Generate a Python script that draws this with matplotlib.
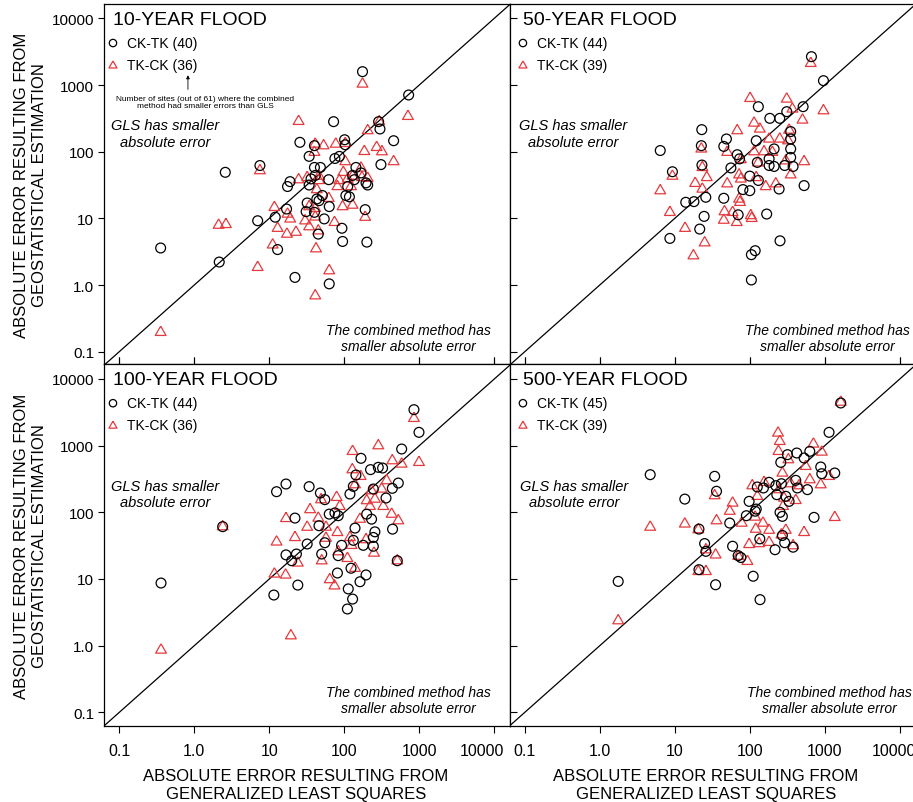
import matplotlib
matplotlib.use("Agg")
import matplotlib.pyplot as plt
import matplotlib.transforms as mtransforms
from matplotlib import font_manager

# narrow face for axis titles if present, else regular at a smaller size
names = {f.name for f in font_manager.fontManager.ttflist}
HAS_NARROW = "Liberation Sans Narrow" in names
NARROW = "Liberation Sans Narrow" if HAS_NARROW else "Liberation Sans"
plt.rcParams["font.family"] = ["Liberation Sans", "DejaVu Sans"]

# ---- data: (GLS error, geostatistical error) pairs ----
panels = ["10-YEAR FLOOD", "50-YEAR FLOOD", "100-YEAR FLOOD", "500-YEAR FLOOD"]
ck_tk_counts = [40, 44, 44, 45]
tk_ck_counts = [36, 39, 36, 39]

ck_tk_10 = [(175, 1585), (721, 708), (2.59, 49), (0.356, 3.59), (2.15, 2.21),
            (72, 282), (287, 282), (299, 219), (455, 146), (25.6, 138), (101, 151),
            (103, 127), (40, 123), (34, 85), (75, 79), (86, 85), (308, 64), (7.5, 62),
            (143, 58), (40, 58), (48, 58), (167, 48), (129, 44), (41, 44), (62, 38),
            (18.9, 35.5), (17.5, 30), (34, 31.6), (195, 34), (205, 31.6), (111, 30),
            (105, 22), (117, 21), (43, 19.5), (46, 18.4), (32, 17), (63, 15), (17, 13.8),
            (31, 12.6), (40, 12.3), (190, 13.5), (12, 10.4), (7, 9.2), (54, 9.8),
            (93, 7.1), (45, 5.8), (95, 4.5), (200, 4.4), (12.9, 3.4), (22, 1.3),
            (63, 1.04), (136, 38), (36, 39), (51, 22)]
tk_ck_10 = [(175, 1035), (706, 339), (2.11, 7.9), (2.64, 8.1), (0.356, 0.195),
            (24.6, 285), (293, 282), (205, 207), (41, 130), (53, 123), (77, 130),
            (103, 133), (270, 116), (318, 100), (185, 101), (40, 98), (455, 71),
            (103, 71), (167, 57), (7.5, 52), (97, 49), (46, 43), (32, 41), (24.6, 38),
            (86, 37), (111, 39), (129, 43), (172, 41), (205, 40), (81, 30), (123, 30),
            (43, 27), (62, 20), (95, 15), (129, 15.8), (11.7, 14.6), (34, 15), (41, 14.1),
            (17.5, 11.6), (19, 9.8), (41, 10.5), (30, 9.2), (190, 10.4), (12.9, 7.1),
            (22.7, 6.2), (17.2, 5.8), (34, 7.5), (74, 8.7), (45, 6.5), (11.1, 4.0),
            (42, 3.5), (7.0, 1.84), (63, 1.64), (41, 0.69), (46, 37)]

ck_tk_50 = [(664, 2660), (960, 1161), (130, 473), (514, 473), (311, 398), (185, 316),
            (251, 316), (22.9, 214), (48.8, 155), (122, 146), (351, 200), (351, 155),
            (45, 120), (22.6, 123), (6.4, 104), (351, 110), (68, 90), (73, 78), (351, 82),
            (23, 63), (56, 57), (126, 69), (181, 62), (211, 60), (292, 62), (378, 60),
            (9.3, 50), (100, 43), (130, 37), (530, 31), (81, 27), (100, 26), (246, 27.5),
            (25.9, 20.7), (45, 20), (14, 17.4), (18, 17.8), (24.6, 10.7), (70, 11.3),
            (168, 11.6), (21.5, 6.9), (8.6, 5.0), (253, 4.6), (105, 2.85), (118, 3.27),
            (105, 1.19), (211, 110), (181, 78)]
tk_ck_50 = [(650, 2113), (101, 631), (311, 617), (370, 437), (960, 412), (504, 299),
            (114, 269), (136, 219), (68, 207), (181, 155), (251, 155), (334, 211),
            (324, 146), (22.6, 110), (50, 98), (114, 100), (155, 100), (200, 98),
            (76, 76), (129, 68), (302, 73), (530, 71), (23.3, 58), (9.3, 43), (26.7, 41),
            (72, 45), (351, 45), (18.7, 33.5), (50, 33), (76, 39), (122, 41), (163, 30),
            (222, 33), (23.3, 27.5), (6.4, 26), (72, 19.5), (74, 17.4), (8.6, 12.3),
            (46, 12.6), (45, 9.4), (59, 12.3), (67, 8.7), (103, 11), (106, 10),
            (13.7, 7.1), (25, 4.3), (17.7, 2.75)]

ck_tk_100 = [(849, 3467), (0.36, 8.7), (2.39, 61), (991, 1585), (582, 891), (167, 646),
             (224, 437), (284, 473), (324, 462), (143, 363), (132, 245), (525, 275),
             (437, 229), (16.7, 266), (12.5, 204), (34, 243), (48, 195), (55, 155),
             (119, 188), (244, 224), (360, 164), (63, 94), (75, 98), (83, 89), (22, 82),
             (199, 94), (231, 79), (440, 56), (46, 63), (139, 58), (256, 51), (244, 42),
             (132, 38), (32, 33.5), (92, 32), (179, 32), (244, 31), (16.7, 23), (23, 23.7),
             (19.9, 18.8), (50, 23.7), (83, 22.4), (123, 14.5), (81, 12.3), (195, 11.5),
             (162, 9.1), (24, 8.1), (11.5, 5.75), (113, 7.1), (129, 5.0), (110, 3.55),
             (55, 35), (509, 18.8)]
tk_ck_100 = [(849, 2570), (2.39, 61), (0.36, 0.86), (19.4, 1.41), (284, 1000), (129, 822),
             (437, 596), (582, 531), (991, 562), (128, 437), (165, 347), (139, 260),
             (367, 299), (315, 224), (231, 211), (79, 168), (49, 155), (87, 123),
             (199, 150), (256, 158), (220, 123), (331, 123), (428, 94), (525, 75),
             (35, 110), (16.7, 81), (45, 82), (32, 60), (57, 60), (81, 50), (162, 79),
             (22, 42), (12.5, 36), (57, 41), (119, 42), (125, 32), (195, 39), (83, 25.7),
             (249, 24.5), (24, 17.4), (50, 18.8), (110, 20.4), (509, 18.8), (139, 14.5),
             (11.7, 11.9), (16.5, 11.5), (64, 9.8), (74, 7.9)]

ck_tk_500 = [(1633, 4365), (1.76, 9.2), (1140, 1585), (423, 776), (631, 822), (530, 653),
             (318, 733), (259, 562), (883, 479), (912, 380), (1358, 389), (4.7, 367),
             (34, 347), (36, 207), (13.6, 158), (152, 232), (181, 282), (222, 251),
             (264, 269), (410, 302), (587, 219), (431, 232), (229, 184), (302, 174),
             (334, 146), (98, 146), (122, 112), (118, 104), (90, 89), (253, 100), (272, 87),
             (719, 84), (54, 69), (21, 56), (272, 45), (136, 40), (25, 34), (59, 31),
             (292, 35), (217, 27.5), (378, 30), (70, 22.4), (76, 21), (26, 26), (21, 13.8),
             (35, 8.2), (111, 11), (137, 4.9), (126, 240)]
tk_ck_500 = [(1633, 4500), (1.76, 2.37), (238, 1549), (251, 1161), (705, 1059), (241, 822),
             (912, 803), (327, 617), (557, 490), (272, 389), (1140, 347), (883, 260),
             (631, 309), (108, 251), (155, 282), (351, 269), (454, 251), (34, 178),
             (59, 138), (126, 174), (286, 164), (410, 151), (54, 104), (278, 123),
             (4.7, 60), (13.6, 67), (36, 75), (20.6, 55), (78, 69), (118, 85), (150, 69),
             (120, 56), (181, 54), (302, 54), (530, 50), (1358, 84), (264, 46), (98, 33),
             (133, 34), (181, 35.5), (378, 31.6), (26, 27.5), (35, 23), (70, 22),
             (93, 18.4), (20.6, 13), (26, 13), (246, 219)]

ck_tk = [ck_tk_10, ck_tk_50, ck_tk_100, ck_tk_500]
tk_ck = [tk_ck_10, tk_ck_50, tk_ck_100, tk_ck_500]

ticks = [0.1, 1, 10, 100, 1000, 10000]
tick_labels = ["0.1", "1.0", "10", "100", "1000", "10000"]

RED = "#e53a3d"
TRI = [(0, 0.577), (-0.5, -0.289), (0.5, -0.289), (0, 0.577)]
label_size = 13 if HAS_NARROW else 12

W, H = 913, 803
fig = plt.figure(figsize=(W / 100, H / 100), dpi=100)

# panel rectangles in pixels: (left, top, width, height)
rects = [(104, 5, 405.5, 360), (509.5, 5, 405.5, 360),
         (104, 365, 405.5, 362), (509.5, 365, 405.5, 362)]
ylims = [(10 ** -1.185, 10 ** 4.215), (10 ** -1.185, 10 ** 4.215),
         (10 ** -1.205, 10 ** 4.225), (10 ** -1.205, 10 ** 4.225)]
title_x = [0.022, 0.033, 0.022, 0.033]
comb_x = [0.75, 0.783, 0.75, 0.79]
gls_x = [0.151, 0.157, 0.151, 0.16]
last_shift = [0, 0, -12, -6]   # px nudge of the "10000" x label

for i, (l, t, w, h) in enumerate(rects):
    ax = fig.add_axes([l / W, 1 - (t + h) / H, w / W, h / H])
    ax.set_xscale("log")
    ax.set_yscale("log")
    ax.set_xlim(10 ** -1.204, 10 ** 4.203)
    ax.set_ylim(*ylims[i])

    ax.axline((1, 1), (10, 10), color="black", lw=0.9, zorder=1)

    cx, cy = zip(*ck_tk[i])
    tx, ty = zip(*tk_ck[i])
    h1 = ax.scatter(cx, cy, s=50, marker="o", facecolors="none", edgecolors="black",
                    linewidths=0.9, zorder=3)
    h2 = ax.scatter(tx, ty, s=80, marker=TRI, facecolors="none", edgecolors=RED,
                    linewidths=0.9, zorder=2)

    left = i % 2 == 0
    top = i < 2
    ax.minorticks_off()
    ax.set_xticks(ticks)
    ax.set_yticks(ticks)
    if left:
        ax.set_yticklabels(tick_labels, fontsize=11)
        ax.tick_params(axis="y", direction="out", length=4, width=0.8, pad=3)
    else:
        ax.set_yticklabels([])
        ax.tick_params(axis="y", direction="in", length=5, width=0.8)
    if top:
        ax.set_xticklabels([])
        ax.tick_params(axis="x", direction="in", length=5, width=0.8)
    else:
        ax.set_xticklabels(tick_labels, fontsize=11.5)
        ax.tick_params(axis="x", direction="out", length=5, width=0.8, pad=7)
        ax.tick_params(axis="x", which="both", top=True)
        # last label sits left of its tick, as in the original layout
        last = ax.get_xticklabels()[-1]
        last.set_transform(last.get_transform() +
                           mtransforms.ScaledTranslation(last_shift[i] / 100, 0,
                                                         fig.dpi_scale_trans))
    for sp in ax.spines.values():
        sp.set_linewidth(0.9)

    ax.text(title_x[i], 0.958, panels[i], transform=ax.transAxes, fontsize=14,
            ha="left", va="center")
    ax.legend([h1, h2], [f"CK-TK ({ck_tk_counts[i]})", f"TK-CK ({tk_ck_counts[i]})"],
              loc="upper left", bbox_to_anchor=(title_x[i] - 0.017, 0.912),
              frameon=False, fontsize=10, markerscale=0.75, handlelength=1.0,
              handletextpad=0.5, labelspacing=0.62, borderpad=0, borderaxespad=0)
    ax.text(gls_x[i], 0.64, "GLS has smaller\nabsolute error", transform=ax.transAxes,
            fontsize=10.5, style="italic", ha="center", va="center", linespacing=1.2)
    ax.text(comb_x[i], 0.072, "The combined method has\nsmaller absolute error",
            transform=ax.transAxes, fontsize=10, style="italic", ha="center",
            va="center", linespacing=1.25)

    if i == 0:
        ax.annotate("", xy=(0.207, 0.81), xytext=(0.207, 0.755), xycoords="axes fraction",
                    arrowprops=dict(arrowstyle="-|>", color="black", lw=0.6,
                                    mutation_scale=5))
        ax.text(0.25, 0.728, "Number of sites (out of 61) where the combined\n"
                "method had smaller errors than GLS", transform=ax.transAxes,
                fontsize=6, ha="center", va="center", linespacing=1.05)

ylab = "ABSOLUTE ERROR RESULTING FROM\nGEOSTATISTICAL ESTIMATION"
xlab = "ABSOLUTE ERROR RESULTING FROM\nGENERALIZED LEAST SQUARES"
for yc in (185, 546):
    fig.text(31 / W, 1 - yc / H, ylab, rotation=90, ha="center", va="center",
             fontsize=label_size, family=NARROW, multialignment="center", linespacing=1.25)
for xc in (296, 706):
    fig.text(xc / W, 1 - 786 / H, xlab, ha="center", va="center", fontsize=label_size,
             family=NARROW, multialignment="center", linespacing=1.25)

fig.savefig("out.png", dpi=100)
